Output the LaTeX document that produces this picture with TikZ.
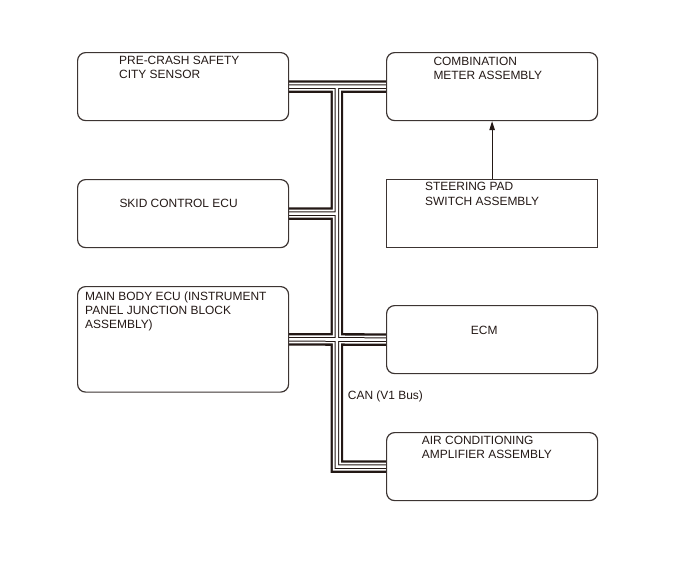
\documentclass[tikz,border=0pt]{standalone}
\usepackage{fontspec}
\setmainfont{Liberation Sans}
\usetikzlibrary{arrows.meta}
\definecolor{ink}{RGB}{35,24,21}
\definecolor{edge}{RGB}{60,52,50}
\pgfdeclarelayer{background}
\pgfsetlayers{background,main}
\begin{document}
\begin{tikzpicture}[x=1pt,y=-1pt,
  box/.style={draw=edge, line width=1.2pt, rounded corners=8pt, inner sep=0pt, minimum width=211pt, minimum height=68pt, anchor=north west},
  sqbox/.style={box, sharp corners},
  lbl/.style={anchor=base west, inner sep=0pt, text=ink, font=\fontsize{11.95}{14.2}\selectfont},
  arr/.style={draw=ink, line width=1pt, -{Triangle[length=9pt,width=5.5pt]}}]
\useasboundingbox (0,0) rectangle (688,560);
\node[box] (pca) at (77,52) {};
\node[box] (cmb) at (386,52) {};
\node[box] (skid) at (77,179) {};
\node[sqbox] (steer) at (386,179) {};
\node[box, minimum height=105.5pt] (mbe) at (77,286) {};
\node[box] (ecm) at (386,305) {};
\node[box] (ac) at (386,432) {};
\coordinate (j1) at (336.8,86);
\begin{pgfonlayer}{background}
\foreach \w/\c in {12.6/ink,8/white,4.6/ink,2.6/white}{
  \draw[line width=\w pt, draw=\c, line join=miter]
    (pca.east) -- (cmb.west)
    (j1) -- (j1 |- ac.west) -- (ac.west)
    (skid.east) -- (skid.east -| j1)
    (mbe.east) -- (ecm.west);
}
\end{pgfonlayer}
\draw[arr] (steer.north) -- (cmb.south);
\node[lbl] (t1) at (119,64.5) {PRE-CRASH SAFETY};
\node[lbl] (t2) at (119,78.5) {CITY SENSOR};
\node[lbl] (t3) at (433.3,65) {COMBINATION};
\node[lbl] (t4) at (433.3,79) {METER ASSEMBLY};
\node[lbl] (t5) at (119.3,207.7) {SKID CONTROL ECU};
\node[lbl] (t6) at (425,190.7) {STEERING PAD};
\node[lbl] (t7) at (425,205) {SWITCH ASSEMBLY};
\node[lbl] (t8) at (85,300) {MAIN BODY ECU (INSTRUMENT};
\node[lbl] (t9) at (85,314.3) {PANEL JUNCTION BLOCK};
\node[lbl] (t10) at (85,328.3) {ASSEMBLY)};
\node[lbl] (t11) at (470.7,334) {ECM};
\node[lbl] (t12) at (421.7,444.3) {AIR CONDITIONING};
\node[lbl] (t13) at (421.7,458.7) {AMPLIFIER ASSEMBLY};
\node[lbl] (t14) at (347.7,399) {CAN (V1 Bus)};
\end{tikzpicture}
\end{document}
